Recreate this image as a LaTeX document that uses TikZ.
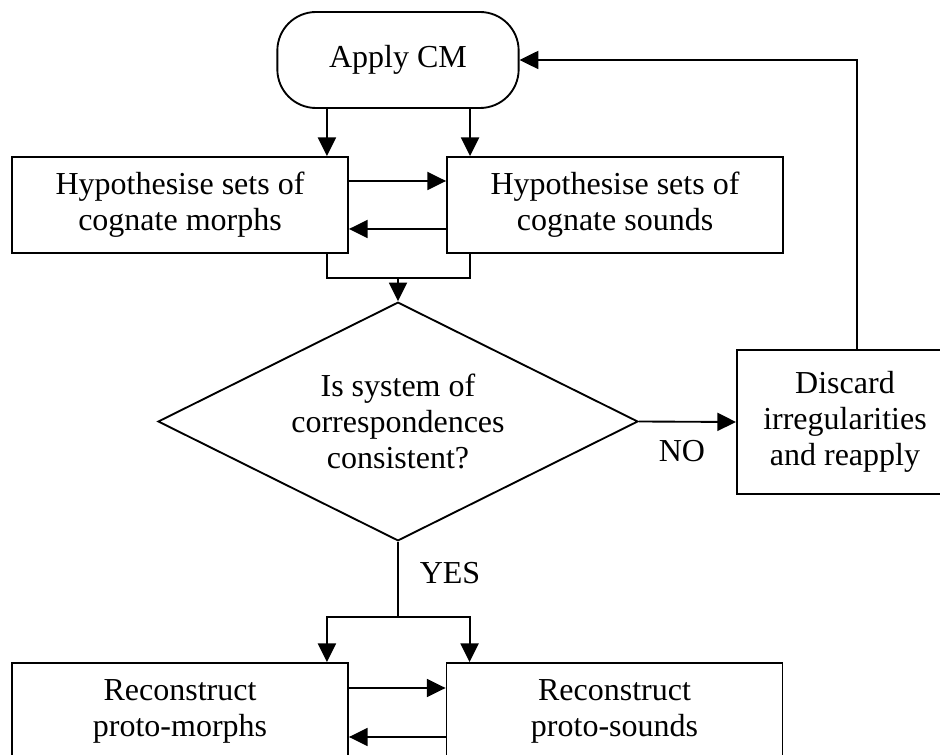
\documentclass[tikz,border=0pt]{standalone}
\usepackage{fontspec}
\setmainfont{Liberation Serif}
\usetikzlibrary{shapes.geometric,arrows.meta,calc}
\begin{document}
\begin{tikzpicture}[x=0.75pt,y=-0.75pt,
  every node/.style={font=\fontsize{24}{27}\selectfont, align=center, inner sep=0pt},
  boxnode/.style={draw, line width=1.4pt, minimum width=252pt, minimum height=72pt},
  arr/.style={line width=1.4pt, -{Triangle[length=14pt,width=13.5pt]}},
  ln/.style={line width=1.4pt}]
\clip (0,0) rectangle (940,755);
\useasboundingbox (0,0) rectangle (940,755);
% nodes
\node[draw, line width=1.4pt, rounded corners=29pt, minimum width=181pt, minimum height=72pt] (apply) at (398,60) {Apply CM};
\node[boxnode] (h1) at (180,205) {Hypothesise sets of\\cognate morphs};
\node[boxnode] (h2) at (615,205) {Hypothesise sets of\\cognate sounds};
\node[draw, diamond, line width=1.4pt, aspect=2, minimum width=360pt, minimum height=179pt] (d) at (398,421.5) {Is system of\\correspondences\\consistent?};
\node[draw, line width=1.4pt, minimum width=200pt, minimum height=108pt, anchor=west] (dis) at (736,422) {};
\node (distext) at (845,422) {Discard\\irregularities\\and reapply};
\node[boxnode] (r1) at (180,711) {Reconstruct\\proto-morphs};
\node[boxnode] (r2) at (614.5,711) {Reconstruct\\proto-sounds};
\node (no) at (682,451) {NO};
\node (yes) at (450,573) {YES};
% connectors
\coordinate (a1) at ($(h1.north east)+(-22,0)$);
\coordinate (a2) at ($(h2.north west)+(24,0)$);
\draw[arr] (apply.south -| a1) -- (a1);
\draw[arr] (apply.south -| a2) -- (a2);
\draw[arr] ($(h1.east)+(0,-24)$) -- ($(h2.west)+(0,-24)$);
\draw[arr] ($(h2.west)+(0,24)$) -- ($(h1.east)+(0,24)$);
\draw[ln] ($(h1.south east)+(-22,0)$) -- ++(0,24) coordinate (ml) -| ($(h2.south west)+(24,0)$);
\draw[arr] (ml -| d.north) -- (d.north);
\draw[arr] (d.east) -- (dis.west);
\draw[arr] ($(dis.north west)+(121,0)$) |- (apply.east);
\draw[ln] (d.south) -- ++(0,75) coordinate (ys);
\coordinate (b1) at ($(r1.north east)+(-22,0)$);
\coordinate (b2) at ($(r2.north west)+(24,0)$);
\draw[arr] (ys) -| (b1);
\draw[arr] (ys) -| (b2);
\draw[arr] ($(r1.east)+(0,-23)$) -- ($(r2.west)+(0,-23)$);
\draw[arr] ($(r2.west)+(0,26)$) -- ($(r1.east)+(0,26)$);
\end{tikzpicture}
\end{document}
